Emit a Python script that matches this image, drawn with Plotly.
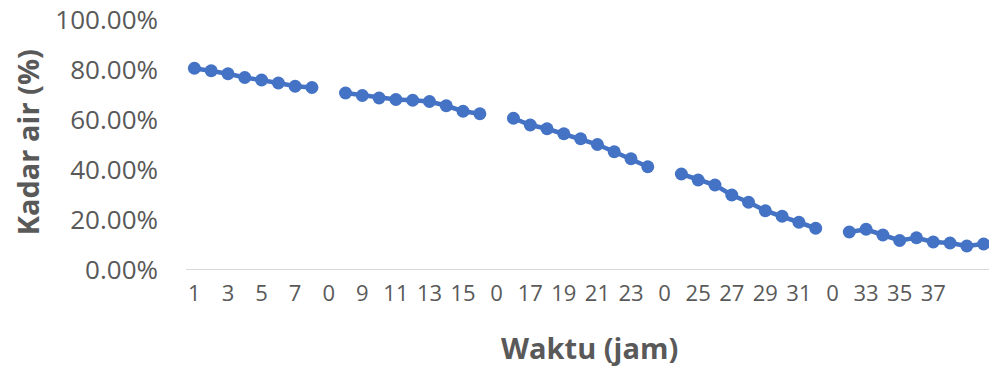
import plotly.graph_objects as go

# Category index positions (each hour sample), gaps carry the "0" category with no data
seg1 = [0.807, 0.797, 0.785, 0.770, 0.760, 0.748, 0.735, 0.730]
seg2 = [0.708, 0.698, 0.688, 0.682, 0.679, 0.674, 0.657, 0.635, 0.625]
seg3 = [0.607, 0.580, 0.565, 0.545, 0.525, 0.502, 0.473, 0.445, 0.413]
seg4 = [0.384, 0.360, 0.340, 0.300, 0.271, 0.237, 0.215, 0.191, 0.167]
seg5 = [0.152, 0.163, 0.140, 0.118, 0.129, 0.112, 0.108, 0.096, 0.104]

values = seg1 + [None] + seg2 + [None] + seg3 + [None] + seg4 + [None] + seg5
positions = list(range(len(values)))

tick_labels = ["1", "3", "5", "7", "0", "9", "11", "13", "15", "0", "17", "19",
               "21", "23", "0", "25", "27", "29", "31", "0", "33", "35", "37"]
tick_positions = positions[0:2 * len(tick_labels):2]

y_ticks = [0, 0.2, 0.4, 0.6, 0.8, 1.0]

x_title = "Waktu (jam)"
y_title = "Kadar air (%)"

BLUE = "#4472C4"
GREY = "#595959"
FONT = "Open Sans"

fig = go.Figure()
fig.add_trace(go.Scatter(
    x=positions, y=values, mode="lines+markers",
    line=dict(color=BLUE, width=4.5),
    marker=dict(color=BLUE, size=13),
    connectgaps=False, cliponaxis=False, showlegend=False,
))

fig.update_layout(
    width=989, height=368,
    margin=dict(l=186, r=0, t=20, b=98),
    paper_bgcolor="white", plot_bgcolor="white",
    font=dict(family=FONT, color=GREY, size=22),
    xaxis=dict(
        range=[-0.5, 47.32], automargin=False,
        tickmode="array", tickvals=tick_positions, ticktext=tick_labels,
        showgrid=False, zeroline=False, showline=False,
        ticks="", ticklabelstandoff=8, ticklabeloverflow="allow",
        tickfont=dict(family=FONT, size=22, color=GREY),
        fixedrange=True,
    ),
    yaxis=dict(
        range=[0, 1.0], automargin=False,
        tickmode="array", tickvals=y_ticks,
        tickformat=".2%",
        showgrid=False, zeroline=False, showline=False,
        ticks="", ticklabelstandoff=27, ticklabeloverflow="allow",
        tickfont=dict(family=FONT, size=26, color=GREY),
        fixedrange=True,
    ),
    shapes=[dict(type="line", xref="paper", yref="y", x0=0, x1=1, y0=0, y1=0,
                 line=dict(color="#D9D9D9", width=2), layer="below")],
    annotations=[
        dict(text=x_title, xref="paper", yref="paper", x=0.503, y=-0.31,
             xanchor="center", yanchor="middle", showarrow=False,
             font=dict(family=FONT, size=29, color=GREY, weight="bold")),
        dict(text=y_title, xref="paper", yref="paper", x=-0.197, y=0.51,
             xanchor="center", yanchor="middle", showarrow=False, textangle=-90,
             font=dict(family=FONT, size=29, color=GREY, weight="bold")),
    ],
)

# remove the default page margin so the figure fills the window exactly
fig.write_html("out.html", config={"displayModeBar": False},
               post_script="document.body.style.margin='0';")
